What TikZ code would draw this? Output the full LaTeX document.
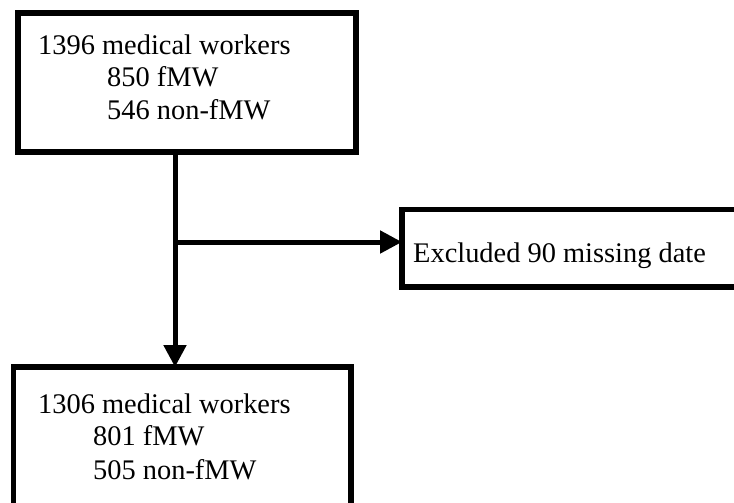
\documentclass[tikz,border=0pt]{standalone}
\usepackage{fontspec}
\setmainfont{Liberation Serif}
\usetikzlibrary{arrows.meta}
\begin{document}
\begin{tikzpicture}[x=1pt,y=-1pt,
  box/.style={draw=black,line width=5.5pt,rectangle,inner sep=0pt,outer sep=0pt},
  txt/.style={anchor=base west,inner sep=0pt,font=\fontsize{28.4}{34}\selectfont},
  conn/.style={line width=5pt,-{Triangle[length=22pt,width=22pt]}}]
\useasboundingbox (0,0) rectangle (734,503);
\node[box,minimum width=338pt,minimum height=139pt] (top) at (187,82.5) {};
\node[box,minimum width=343pt,minimum height=77.5pt] (right) at (573.5,248.25) {};
\node[box,minimum width=337.7pt,minimum height=163pt] (bot) at (182.15,448.5) {};
\node[txt] (t1) at (38,55) {1396 medical workers};
\node[txt] (t2) at (107,87) {850 fMW};
\node[txt] (t3) at (107,119) {546 non-fMW};
\node[txt] (r1) at (413,262) {Excluded 90 missing date};
\node[txt] (b1) at (38,413) {1306 medical workers};
\node[txt] (b2) at (93,445) {801 fMW};
\node[txt] (b3) at (93,479) {505 non-fMW};
\coordinate (j) at (175,242);
\draw[conn] (top.south -| j) -- (bot.north -| j);
\draw[conn] (j) -- (j -| right.west);
\end{tikzpicture}
\end{document}
